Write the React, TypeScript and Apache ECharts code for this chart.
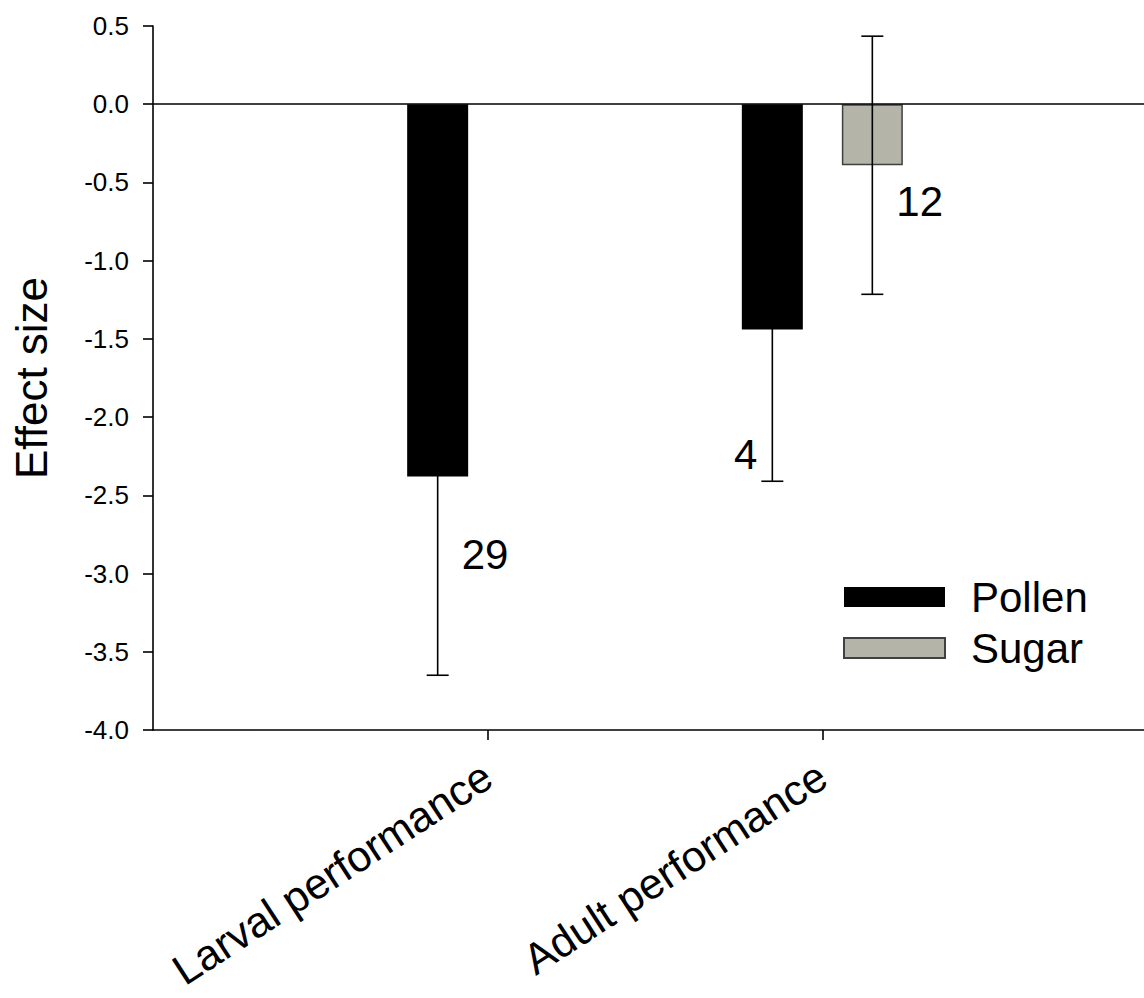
import React, { useEffect, useRef } from "react";
import * as echarts from "echarts";

// ---- data ----
const categories = ["", "Larval performance", "Adult performance", ""];
const seriesNames = ["Pollen", "Sugar"];
const pollenMean: (number | string)[] = ["-", -2.38, -1.44, "-"];
const pollenErr: (number | string)[] = ["-", 1.27, 0.97, "-"];
const pollenN: (number | string)[] = ["-", "29", "4", "-"];
const pollenNAt: (number | string)[] = ["-", -2.88, -2.24, "-"];
const sugarMean: (number | string)[] = ["-", "-", -0.39, "-"];
const sugarErr: (number | string)[] = ["-", "-", 0.825, "-"];
const sugarN: (number | string)[] = ["-", "-", "12", "-"];
const sugarNAt: (number | string)[] = ["-", "-", -0.62, "-"];
const yTicks = { min: -4, max: 0.5, interval: 0.5 };

const FONT = "'Liberation Sans', Arial, Helvetica, sans-serif";
const BAR_WIDTH = 61;
const BAR_GAP_PX = 39;
const OFFSET = (BAR_WIDTH + BAR_GAP_PX) / 2;

function errRows(mean: (number | string)[], err: (number | string)[], n: (number | string)[], nAt: (number | string)[]) {
  const rows: any[] = [];
  mean.forEach((m, i) => {
    if (typeof m === "number" && typeof err[i] === "number") {
      rows.push([i, m, err[i], n[i], nAt[i]]);
    }
  });
  return rows;
}

function makeErrSeries(name: string, rows: any[], offset: number, labelSide: (idx: number) => number) {
  return {
    type: "custom",
    name: name + " error",
    z: 5,
    silent: true,
    encode: { x: 0, y: 1 },
    data: rows,
    renderItem: (params: any, api: any) => {
      const cat = api.value(0);
      const mean = api.value(1);
      const err = api.value(2);
      const nAt = api.value(4);
      const top = api.coord([cat, mean + err]);
      const bot = api.coord([cat, mean - err]);
      const lab = api.coord([cat, nAt]);
      const x = top[0] + offset;
      const cap = 11;
      const side = labelSide(cat);
      const nText = String(rows[params.dataIndex][3]);
      return {
        type: "group",
        children: [
          { type: "line", shape: { x1: x, y1: top[1], x2: x, y2: bot[1] }, style: { stroke: "#000", lineWidth: 1.6 } },
          { type: "line", shape: { x1: x - cap, y1: top[1], x2: x + cap, y2: top[1] }, style: { stroke: "#000", lineWidth: 1.6 } },
          { type: "line", shape: { x1: x - cap, y1: bot[1], x2: x + cap, y2: bot[1] }, style: { stroke: "#000", lineWidth: 1.6 } },
          {
            type: "text",
            x: x + (side > 0 ? 24 : -15),
            y: lab[1],
            style: {
              text: nText,
              fill: "#000",
              fontSize: 42,
              fontFamily: FONT,
              align: side > 0 ? "left" : "right",
              verticalAlign: "middle",
            },
          },
        ],
      };
    },
  };
}

export default function App() {
  const ref = useRef<HTMLDivElement>(null);
  useEffect(() => {
    if (!ref.current) return;
    const chart = echarts.init(ref.current, undefined, { renderer: "svg" });
    const option: any = {
      animation: false,
      backgroundColor: "#ffffff",
      textStyle: { fontFamily: FONT },
      grid: { left: 153, top: 26, bottom: 268, right: -13, containLabel: false, outerBoundsMode: "none" },
      legend: {
        orient: "vertical",
        left: 843,
        top: 576,
        padding: 0,
        data: seriesNames,
        itemWidth: 101,
        itemHeight: 20,
        itemGap: 9,
        icon: "rect",
        textStyle: { fontSize: 42, color: "#000", fontFamily: FONT, padding: [0, 0, 0, 21] },
        selectedMode: false,
      },
      xAxis: {
        type: "category",
        data: categories,
        boundaryGap: false,
        axisLine: { show: true, onZero: false, lineStyle: { color: "#000", width: 1.6 } },
        axisTick: {
          show: true,
          length: 10,
          interval: (i: number) => i === 1 || i === 2,
          lineStyle: { color: "#000", width: 1.6 },
        },
        axisLabel: {
          interval: 0,
          rotate: 33,
          margin: 42,
          fontSize: 43,
          color: "#000",
          fontFamily: FONT,
        },
        splitLine: { show: false },
      },
      yAxis: {
        type: "value",
        min: yTicks.min,
        max: yTicks.max,
        interval: yTicks.interval,
        name: "Effect size",
        nameLocation: "middle",
        nameGap: 100,
        nameTextStyle: { fontSize: 44, color: "#000", fontFamily: FONT },
        axisLine: { show: true, onZero: false, lineStyle: { color: "#000", width: 1.6 } },
        axisTick: { show: true, length: 10, lineStyle: { color: "#000", width: 1.6 } },
        axisLabel: {
          margin: 24,
          fontSize: 26,
          color: "#000",
          fontFamily: FONT,
          formatter: (v: number) => v.toFixed(1),
        },
        splitLine: { show: false },
      },
      series: [
        {
          type: "bar",
          name: "Pollen",
          data: pollenMean,
          barWidth: BAR_WIDTH,
          barGap: (BAR_GAP_PX / BAR_WIDTH) * 100 + "%",
          itemStyle: { color: "#000000" },
          z: 2,
          markLine: {
            silent: true,
            symbol: ["none", "none"],
            label: { show: false },
            lineStyle: { color: "#000", width: 1.6, type: "solid" },
            data: [{ yAxis: 0 }],
          },
        },
        {
          type: "bar",
          name: "Sugar",
          data: sugarMean,
          barWidth: BAR_WIDTH,
          barGap: (BAR_GAP_PX / BAR_WIDTH) * 100 + "%",
          itemStyle: { color: "#b4b4a8", borderColor: "#404040", borderWidth: 1.5 },
          z: 2,
        },
        makeErrSeries("Pollen", errRows(pollenMean, pollenErr, pollenN, pollenNAt), -OFFSET, (c) => (c === 2 ? -1 : 1)),
        makeErrSeries("Sugar", errRows(sugarMean, sugarErr, sugarN, sugarNAt), OFFSET, () => 1),
      ],
    };
    chart.setOption(option);
    return () => chart.dispose();
  }, []);
  return (
    <div
      ref={ref}
      style={{ position: "fixed", left: 0, top: 0, width: 1144, height: 998, background: "#fff" }}
    />
  );
}
